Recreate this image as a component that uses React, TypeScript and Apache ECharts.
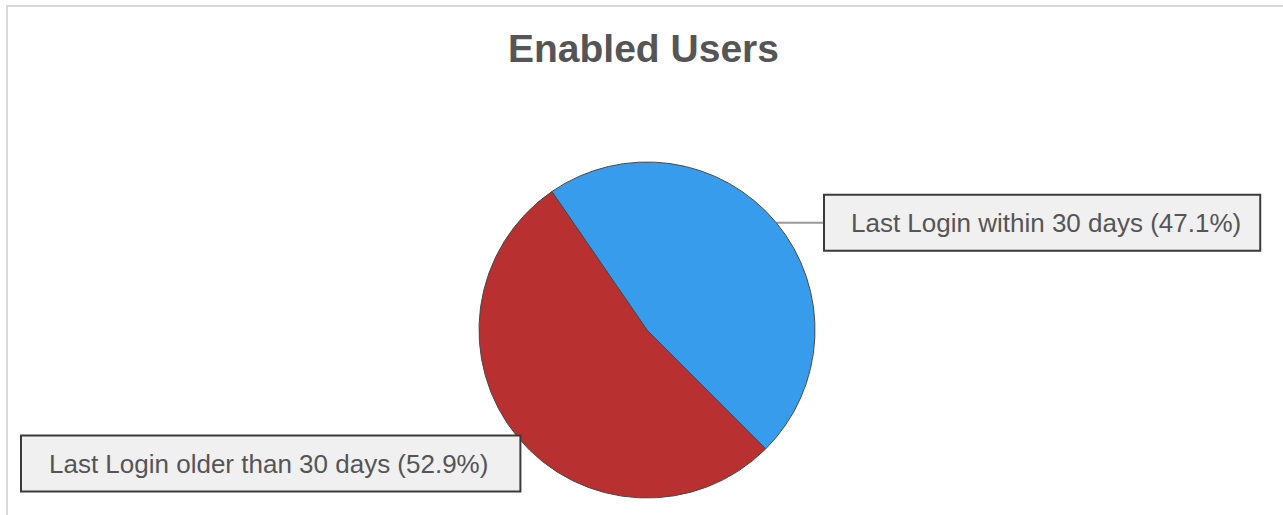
import React, { useEffect, useRef } from "react";
import * as echarts from "echarts";

const categories: string[] = ["Last Login within 30 days", "Last Login older than 30 days"];
const values: number[] = [47.1, 52.9];
const colors: string[] = ["#389CEC", "#B93031"];
const chartTitle = "Enabled Users";

export default function App() {
  const ref = useRef<HTMLDivElement>(null);
  useEffect(() => {
    if (!ref.current) return;
    const chart = echarts.init(ref.current, null, { renderer: "svg" });
    const labelBoxLeft = [825, 22];
    const labelBoxMidY = [null, 463.5];
    const labelPadding = [
      [12, 18, 12, 26],
      [12, 31, 12, 27],
    ];
    chart.setOption({
      animation: false,
      backgroundColor: "#ffffff",
      title: {
        text: chartTitle,
        left: 508,
        top: 29,
        padding: 0,
        textStyle: {
          fontFamily: "Liberation Sans, Arial, sans-serif",
          fontSize: 39,
          fontWeight: "bold",
          color: "#555555",
        },
      },
      series: [
        {
          type: "pie",
          center: [647, 330],
          radius: 168,
          startAngle: 124.5,
          clockwise: true,
          percentPrecision: 1,
          avoidLabelOverlap: false,
          itemStyle: { borderColor: "#4a4a4a", borderWidth: 1 },
          label: {
            show: true,
            position: "outside",
            formatter: "{b} ({d}%)",
            fontFamily: "Liberation Sans, Arial, sans-serif",
            fontSize: 26,
            lineHeight: 30,
            color: "#555555",
            backgroundColor: "#F0F0F0",
            borderColor: "#3a3a3a",
            borderWidth: 2,
          },
          labelLine: {
            show: true,
            lineStyle: { color: "#999999", width: 2 },
          },
          labelLayout: (params: any) => {
            const i = params.dataIndex;
            const pts = params.labelLinePoints;
            if (i === 0 && pts) {
              const p0 = pts[0];
              const y = p0[1];
              return {
                x: labelBoxLeft[0],
                y: y,
                align: "left",
                verticalAlign: "middle",
                labelLinePoints: [
                  [p0[0], y],
                  [(p0[0] + labelBoxLeft[0]) / 2, y],
                  [labelBoxLeft[0], y],
                ],
              };
            }
            return {
              x: labelBoxLeft[1],
              y: labelBoxMidY[1],
              align: "left",
              verticalAlign: "middle",
            };
          },
          data: categories.map((name, i) => ({
            name,
            value: values[i],
            itemStyle: { color: colors[i] },
            label: { padding: labelPadding[i] },
            labelLine: { show: i === 0 },
          })),
        },
      ],
    });
    return () => chart.dispose();
  }, []);
  return (
    <div style={{ position: "fixed", left: 0, top: 0, width: 1283, height: 515, overflow: "hidden", background: "#fff" }}>
      <div ref={ref} style={{ position: "absolute", left: 0, top: 0, width: 1283, height: 515 }} />
      <div
        style={{
          position: "absolute",
          left: 6,
          top: 5,
          width: 1290,
          height: 530,
          borderTop: "2px solid #d9d9d9",
          borderLeft: "2px solid #d9d9d9",
          pointerEvents: "none",
        }}
      />
    </div>
  );
}
